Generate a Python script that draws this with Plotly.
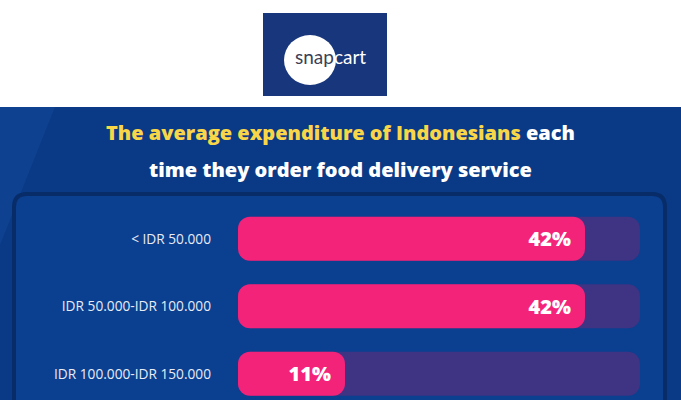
import plotly.graph_objects as go

# ---- data ----
categories = ["< IDR 50.000", "IDR 50.000-IDR 100.000", "IDR 100.000-IDR 150.000"]
values = [42, 42, 11]
value_labels = ["42%", "42%", "11%"]

W, H = 681, 400
def px(x): return x / W
def py(y): return 1 - y / H

X_MIN, X_MAX = -2.82, 49.1   # axis range (bars start at the left edge of the track)
BASE = X_MIN
track_len = X_MAX - X_MIN

BG = "#0a3a86"
PANEL = "#0b3f90"
PANEL_LINE = "#072c68"
PINK = "#f4237a"
TRACK = "#3f3383"
YELLOW = "#f9d648"

ypos = list(range(len(categories)))

fig = go.Figure()

# background tracks
fig.add_trace(go.Bar(
    y=ypos, x=[track_len] * len(categories), base=BASE, orientation="h",
    marker=dict(color=TRACK, line=dict(width=0), cornerradius=12),
    width=0.65, hoverinfo="skip", showlegend=False,
))
# value bars
fig.add_trace(go.Bar(
    y=ypos, x=[v - BASE for v in values], base=BASE, orientation="h",
    marker=dict(color=PINK, line=dict(width=0), cornerradius=12),
    width=0.65, text=value_labels,
    texttemplate="%{text}\u00a0\u00a0",
    textposition="inside", insidetextanchor="end",
    textfont=dict(family="Open Sans", size=20, color="white", weight=800),
    constraintext="none",
    showlegend=False,
))

shapes = [
    # blue band
    dict(type="rect", xref="paper", yref="paper", x0=0, x1=1, y0=0, y1=py(107),
         fillcolor=BG, line=dict(width=0), layer="below"),
    # subtle lighter streak on the left
    dict(type="path", xref="paper", yref="paper",
         path=f"M 0 {py(107)} L {px(55)} {py(107)} L 0 {py(245)} Z",
         fillcolor="#0e4190", line=dict(width=0), layer="below"),
    # panel with rounded corners
    dict(type="path", xref="paper", yref="paper",
         path=(f"M {px(14)} {py(430)} L {px(14)} {py(207)} "
               f"Q {px(14)} {py(194)} {px(27)} {py(194)} "
               f"L {px(652)} {py(194)} Q {px(665)} {py(194)} {px(665)} {py(207)} "
               f"L {px(665)} {py(430)} Z"),
         fillcolor=PANEL, line=dict(color=PANEL_LINE, width=4), layer="below"),
    # logo box
    dict(type="rect", xref="paper", yref="paper", x0=px(263), x1=px(387), y0=py(96), y1=py(13),
         fillcolor="#17367b", line=dict(width=0), layer="below"),
    dict(type="circle", xref="paper", yref="paper", x0=px(284), x1=px(336), y0=py(85), y1=py(35),
         fillcolor="white", line=dict(width=0), layer="below"),
]

annotations = [
    dict(text="<span style='color:#3b3f58'>snap</span><span style='color:#ffffff'>cart</span>",
         x=px(330), y=py(56), xref="paper", yref="paper", showarrow=False,
         font=dict(family="Lato", size=19), xanchor="center", yanchor="middle"),
    dict(text=f"<span style='color:{YELLOW}'>The average expenditure of Indonesians</span> each",
         x=0.5, y=py(132), xref="paper", yref="paper", showarrow=False,
         font=dict(family="Open Sans", size=20, color="white", weight=800),
         xanchor="center", yanchor="middle"),
    dict(text="time they order food delivery service",
         x=0.5, y=py(169), xref="paper", yref="paper", showarrow=False,
         font=dict(family="Open Sans", size=20, color="white", weight=800),
         xanchor="center", yanchor="middle"),
]

fig.update_layout(
    width=W, height=H,
    margin=dict(l=0, r=0, t=0, b=0),
    paper_bgcolor="white", plot_bgcolor="rgba(0,0,0,0)",
    barmode="overlay",
    shapes=shapes, annotations=annotations,
    xaxis=dict(domain=[px(238), px(640)], range=[X_MIN, X_MAX], visible=False, fixedrange=True),
    yaxis=dict(domain=[0, py(205)], range=[2.389, -0.5], tickvals=ypos, ticktext=categories,
               showgrid=False, zeroline=False, showline=False, ticks="",
               ticklabelstandoff=26,
               tickfont=dict(family="Open Sans", size=13.7, color="#e8ecf6"), fixedrange=True),
)

fig.write_html("out.html", config={"displayModeBar": False},
               post_script="document.body.style.margin='0';")
